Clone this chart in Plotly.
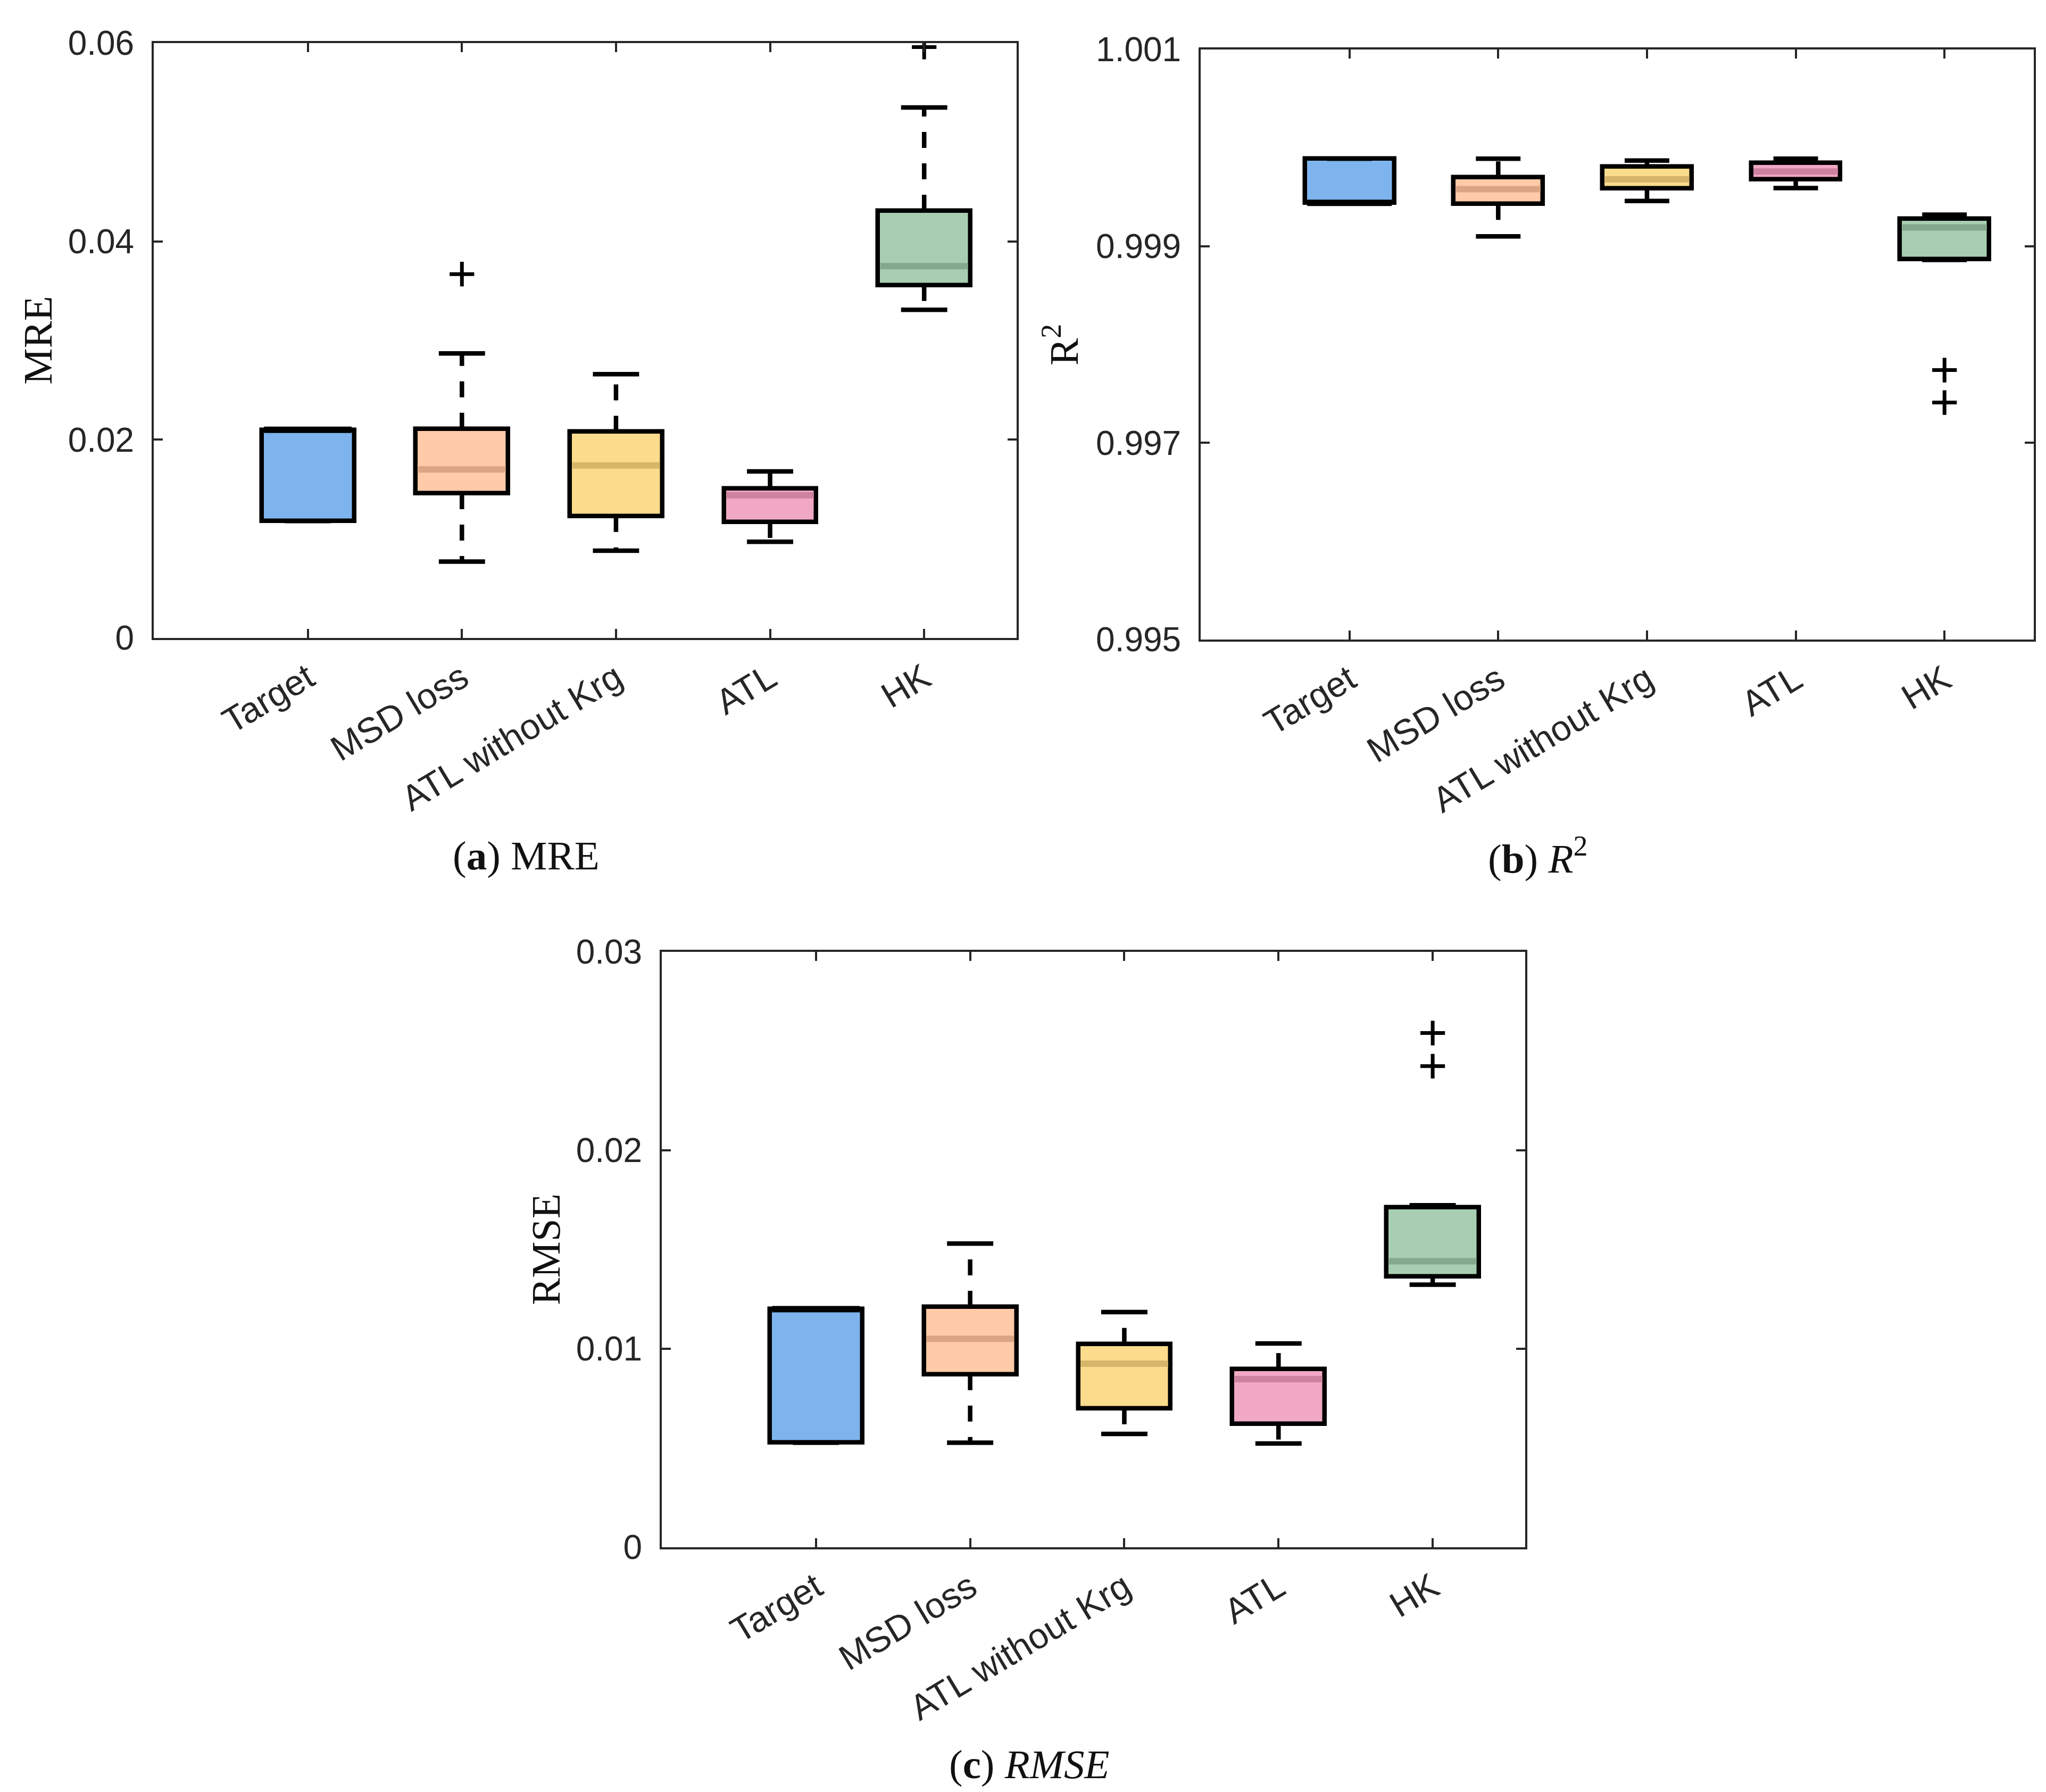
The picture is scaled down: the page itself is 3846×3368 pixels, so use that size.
import plotly.graph_objects as go

W, H = 3846, 3368

categories = ["Target", "MSD loss", "ATL without Krg", "ATL", "HK"]
positions = [1, 2, 3, 4, 5]

# (a) MRE
mre_q1 = [0.0118, 0.0146, 0.0123, 0.0117, 0.0356]
mre_med = [0.0210, 0.0170, 0.0174, 0.0144, 0.0375]
mre_q3 = [0.0210, 0.0211, 0.0208, 0.0151, 0.0431]
mre_lo = [0.0118, 0.0077, 0.0088, 0.0097, 0.0331]
mre_hi = [0.0210, 0.0287, 0.0266, 0.0168, 0.0535]
mre_out_x = [2, 5]
mre_out_y = [0.0367, 0.0596]

# (b) R^2
r2_q1 = [0.99944, 0.99943, 0.99959, 0.99968, 0.99887]
r2_med = [0.99944, 0.99958, 0.99968, 0.99976, 0.99919]
r2_q3 = [0.99989, 0.99970, 0.99981, 0.99985, 0.99928]
r2_lo = [0.99944, 0.99910, 0.99946, 0.99959, 0.99886]
r2_hi = [0.99989, 0.99989, 0.99987, 0.99989, 0.99932]
r2_out_x = [5, 5]
r2_out_y = [0.99774, 0.99741]

# (c) RMSE
rmse_q1 = [0.00527, 0.00872, 0.00700, 0.00623, 0.01365]
rmse_med = [0.01200, 0.01050, 0.00925, 0.00847, 0.01441]
rmse_q3 = [0.01200, 0.01212, 0.01025, 0.00898, 0.01712]
rmse_lo = [0.00527, 0.00527, 0.00571, 0.00523, 0.01323]
rmse_hi = [0.01200, 0.01530, 0.01185, 0.01027, 0.01723]
rmse_out_x = [5, 5]
rmse_out_y = [0.02591, 0.02424]

fill_colors = ["#7EB4EE", "#FFCAA8", "#FBDB8C", "#F1A8C4", "#A8CEB2"]
median_colors = ["#000000", "#DBA585", "#D6B668", "#CE82A0", "#84A88C"]

# y tick labels
mre_ticks = [0, 0.02, 0.04, 0.06]
r2_ticks = [0.995, 0.997, 0.999, 1.001]
rmse_ticks = [0, 0.01, 0.02, 0.03]

LINE_W = 8.5
BOX_HALF = 0.3
MED_HALF = 0.284
CAP_HALF = 0.15
AX_COLOR = "#262626"


def px_x(p):
    return p / W


def px_y(p):
    return 1 - p / H


fig = go.Figure()


def add_panel(xa, ya, q1, med, q3, lo, hi, ox, oy):
    # box bodies
    fig.add_trace(go.Bar(
        x=positions, y=[b - a for a, b in zip(q1, q3)], base=q1,
        width=2 * BOX_HALF,
        marker=dict(color=fill_colors, line=dict(color="black", width=LINE_W)),
        xaxis=xa, yaxis=ya, showlegend=False, hoverinfo="skip"))
    # medians
    for i, p in enumerate(positions):
        fig.add_trace(go.Scatter(
            x=[p - MED_HALF, p + MED_HALF], y=[med[i], med[i]], mode="lines",
            line=dict(color=median_colors[i], width=12),
            xaxis=xa, yaxis=ya, showlegend=False, hoverinfo="skip"))
    # whiskers (dashed, drawn outward from box)
    wx, wy = [], []
    for i, p in enumerate(positions):
        if hi[i] > q3[i]:
            wx += [p, p, None]
            wy += [q3[i], hi[i], None]
        if lo[i] < q1[i]:
            wx += [p, p, None]
            wy += [q1[i], lo[i], None]
    fig.add_trace(go.Scatter(
        x=wx, y=wy, mode="lines", connectgaps=False,
        line=dict(color="black", width=LINE_W, dash="30px,29px"),
        xaxis=xa, yaxis=ya, showlegend=False, hoverinfo="skip"))
    # caps
    cx, cy = [], []
    for i, p in enumerate(positions):
        cx += [p - CAP_HALF, p + CAP_HALF, None, p - CAP_HALF, p + CAP_HALF, None]
        cy += [hi[i], hi[i], None, lo[i], lo[i], None]
    fig.add_trace(go.Scatter(
        x=cx, y=cy, mode="lines", connectgaps=False,
        line=dict(color="black", width=LINE_W),
        xaxis=xa, yaxis=ya, showlegend=False, hoverinfo="skip"))
    # outliers
    fig.add_trace(go.Scatter(
        x=ox, y=oy, mode="markers",
        marker=dict(symbol="cross-thin", size=33, line=dict(color="black", width=7)),
        xaxis=xa, yaxis=ya, showlegend=False, hoverinfo="skip"))


add_panel("x", "y", mre_q1, mre_med, mre_q3, mre_lo, mre_hi, mre_out_x, mre_out_y)
add_panel("x2", "y2", r2_q1, r2_med, r2_q3, r2_lo, r2_hi, r2_out_x, r2_out_y)
add_panel("x3", "y3", rmse_q1, rmse_med, rmse_q3, rmse_lo, rmse_hi, rmse_out_x, rmse_out_y)

tick_font = dict(family="Liberation Sans, Arial, sans-serif", size=64, color=AX_COLOR)
xtick_font = dict(family="Liberation Sans, Arial, sans-serif", size=67, color=AX_COLOR)

common_x = dict(
    range=[0, 5.6], tickmode="array", tickvals=positions, ticktext=categories,
    tickangle=-31, ticks="inside", ticklen=17, tickwidth=4, tickcolor=AX_COLOR,
    showline=True, linecolor=AX_COLOR, linewidth=4, mirror="ticks",
    showgrid=False, zeroline=False, tickfont=xtick_font, automargin=False,
    ticklabelstandoff=6,
)
common_y = dict(
    ticks="inside", ticklen=17, tickwidth=4, tickcolor=AX_COLOR,
    showline=True, linecolor=AX_COLOR, linewidth=4, mirror="ticks",
    showgrid=False, zeroline=False, tickfont=tick_font, automargin=False,
    tickmode="array", ticklabelstandoff=20,
)

# panel pixel boxes: left, right, top, bottom
pa = (281, 1903, 73, 1191)
pb = (2249, 3815, 85, 1194)
pc = (1236, 2859, 1781, 2900)


def dom(p):
    l, r, t, b = p
    return [px_x(l), px_x(r)], [px_y(b), px_y(t)]


dxa, dya = dom(pa)
dxb, dyb = dom(pb)
dxc, dyc = dom(pc)

fig.update_layout(
    width=W, height=H,
    margin=dict(l=0, r=0, t=0, b=0),
    paper_bgcolor="white", plot_bgcolor="white",
    barmode="overlay", bargap=0,
    xaxis=dict(common_x, domain=dxa, anchor="y"),
    yaxis=dict(common_y, domain=dya, anchor="x", range=[0, 0.06], tickvals=mre_ticks,
               ticktext=["0", "0.02", "0.04", "0.06"]),
    xaxis2=dict(common_x, domain=dxb, anchor="y2"),
    yaxis2=dict(common_y, domain=dyb, anchor="x2", range=[0.995, 1.001], tickvals=r2_ticks,
                ticktext=["0.995", "0.997", "0.999", "1.001"]),
    xaxis3=dict(common_x, domain=dxc, anchor="y3"),
    yaxis3=dict(common_y, domain=dyc, anchor="x3", range=[0, 0.03], tickvals=rmse_ticks,
                ticktext=["0", "0.01", "0.02", "0.03"]),
)

serif = "Liberation Serif, Times New Roman, serif"
title_font = dict(family=serif, size=77, color="#111111")

annots = [
    # y-axis titles
    dict(text="MRE", x=px_x(63), y=px_y(632), textangle=-90),
    dict(text="R<sup>2</sup>", x=px_x(1987), y=px_y(640), textangle=-90),
    dict(text="RMSE", x=px_x(1018), y=px_y(2340), textangle=-90),
    # captions
    dict(text="(<b>a</b>) MRE", x=px_x(981), y=px_y(1600), textangle=0),
    dict(text="(<b>b</b>) <i>R</i><sup>2</sup>", x=px_x(2882), y=px_y(1600), textangle=0),
    dict(text="(<b>c</b>) <i>RMSE</i>", x=px_x(1926), y=px_y(3308), textangle=0),
]
for a in annots:
    fig.add_annotation(xref="paper", yref="paper", showarrow=False,
                       xanchor="center", yanchor="middle", font=title_font, **a)

fig.write_html("out.html")
